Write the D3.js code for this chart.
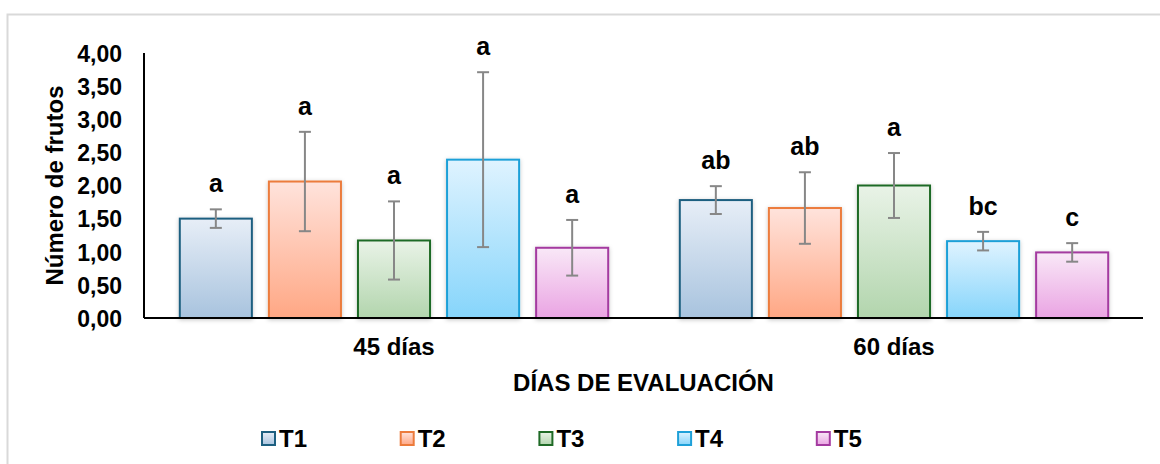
<!DOCTYPE html>
<html>
<head>
<meta charset="utf-8">
<script src="https://cdn.jsdelivr.net/npm/d3@7/dist/d3.min.js"></script>
<style>
  body { margin: 0; background: #fff; }
  svg text { font-family: "Liberation Sans", Arial, sans-serif; font-weight: bold; fill: #000; }
</style>
</head>
<body>
<div class="chart-wrapper"></div>
<script>
const days = ['45 días', '60 días']
const treatments = ['T1', 'T2', 'T3', 'T4', 'T5']

// mean number of fruits per treatment, one array per evaluation day
const means45 = [1.50, 2.06, 1.17, 2.39, 1.06]
const means60 = [1.78, 1.66, 2.00, 1.16, 0.99]

// error bar half-widths
const err45 = [0.14, 0.75, 0.59, 1.32, 0.42]
const err60 = [0.21, 0.54, 0.49, 0.14, 0.14]

// significance letters
const letters45 = ['a', 'a', 'a', 'a', 'a']
const letters60 = ['ab', 'ab', 'a', 'bc', 'c']

const yTicks = [0, 0.5, 1, 1.5, 2, 2.5, 3, 3.5, 4]

const colors = {
  T1: { stroke: '#1d5f80', top: '#e7eef7', bottom: '#a8c3de' },
  T2: { stroke: '#ec7b3c', top: '#ffe3dc', bottom: '#ffa784' },
  T3: { stroke: '#1f6a26', top: '#e9f3e7', bottom: '#b2d5ad' },
  T4: { stroke: '#1ea0d8', top: '#dff3ff', bottom: '#86d5fb' },
  T5: { stroke: '#a43aa0', top: '#f9e8f7', bottom: '#eaa4e3' }
}

const width = 1160, height = 464
const margin = { left: 144, right: 17, top: 53, bottom: 146 }

const rows = [
  { day: days[0], means: means45, errs: err45, letters: letters45 },
  { day: days[1], means: means60, errs: err60, letters: letters60 }
]

const svg = d3.select('.chart-wrapper')
  .append('svg')
  .attr('width', width)
  .attr('height', height)

const defs = svg.append('defs')

treatments.forEach(t => {
  const g = defs.append('linearGradient')
    .attr('id', 'grad-' + t)
    .attr('x1', 0).attr('y1', 0).attr('x2', 0).attr('y2', 1)
  g.append('stop').attr('offset', '0%').attr('stop-color', colors[t].top)
  g.append('stop').attr('offset', '100%').attr('stop-color', colors[t].bottom)
})

defs.append('filter')
  .attr('id', 'shadow')
  .attr('x', '-20%').attr('y', '-20%').attr('width', '140%').attr('height', '140%')
  .append('feDropShadow')
  .attr('dx', 0).attr('dy', 1)
  .attr('stdDeviation', 2)
  .attr('flood-color', '#000')
  .attr('flood-opacity', 0.22)

// chart frame
svg.append('rect')
  .attr('x', 7.5).attr('y', 14.5)
  .attr('width', width).attr('height', height)
  .attr('fill', 'none')
  .attr('stroke', '#d9d9d9')
  .attr('stroke-width', 2)

const x0 = d3.scaleBand()
  .domain(days)
  .range([margin.left, width - margin.right + 1])
  .paddingInner(0.1432)
  .paddingOuter(0.0716)

const x1 = d3.scaleBand()
  .domain(treatments)
  .range([0, x0.bandwidth()])
  .paddingInner(0.191)
  .paddingOuter(0)

const y = d3.scaleLinear()
  .domain([0, 4])
  .range([height - margin.bottom, margin.top])

const locale = d3.formatLocale({ decimal: ',', thousands: '.', grouping: [3], currency: ['', ''] })
const fmt = locale.format('.2f')

// y axis
const yAxis = svg.append('g')
  .attr('transform', `translate(${margin.left},0)`)
  .call(d3.axisLeft(y).tickValues(yTicks).tickFormat(fmt).tickSize(0).tickPadding(22))

yAxis.select('.domain').remove()
yAxis.selectAll('text')
  .style('font-size', '23px')
  .attr('dy', '0.36em')

svg.append('line')
  .attr('x1', margin.left).attr('x2', margin.left)
  .attr('y1', y(4)).attr('y2', y(0))
  .attr('stroke', '#000')
  .attr('stroke-width', 2)

// bars
const groups = svg.append('g')
  .selectAll('g')
  .data(rows)
  .join('g')
  .attr('transform', d => `translate(${x0(d.day)},0)`)

const items = groups.selectAll('g')
  .data(d => treatments.map((t, i) => ({ t, v: d.means[i], e: d.errs[i], l: d.letters[i] })))
  .join('g')

items.append('rect')
  .attr('x', d => x1(d.t))
  .attr('y', d => y(d.v))
  .attr('width', x1.bandwidth())
  .attr('height', d => y(0) - y(d.v))
  .attr('fill', d => `url(#grad-${d.t})`)
  .attr('stroke', d => colors[d.t].stroke)
  .attr('stroke-width', 2)
  .attr('filter', 'url(#shadow)')

// error bars
const cap = 6
items.append('line')
  .attr('x1', d => x1(d.t) + x1.bandwidth() / 2)
  .attr('x2', d => x1(d.t) + x1.bandwidth() / 2)
  .attr('y1', d => y(d.v + d.e))
  .attr('y2', d => y(d.v - d.e))
  .attr('stroke', '#878787').attr('stroke-width', 2)

items.append('line')
  .attr('x1', d => x1(d.t) + x1.bandwidth() / 2 - cap)
  .attr('x2', d => x1(d.t) + x1.bandwidth() / 2 + cap)
  .attr('y1', d => y(d.v + d.e))
  .attr('y2', d => y(d.v + d.e))
  .attr('stroke', '#878787').attr('stroke-width', 2)

items.append('line')
  .attr('x1', d => x1(d.t) + x1.bandwidth() / 2 - cap)
  .attr('x2', d => x1(d.t) + x1.bandwidth() / 2 + cap)
  .attr('y1', d => y(d.v - d.e))
  .attr('y2', d => y(d.v - d.e))
  .attr('stroke', '#878787').attr('stroke-width', 2)

items.append('text')
  .attr('x', d => x1(d.t) + x1.bandwidth() / 2)
  .attr('y', d => y(d.v + d.e) - 17)
  .attr('text-anchor', 'middle')
  .style('font-size', '25px')
  .text(d => d.l)

// x axis line
svg.append('line')
  .attr('x1', margin.left).attr('x2', width - margin.right)
  .attr('y1', y(0)).attr('y2', y(0))
  .attr('stroke', '#000')
  .attr('stroke-width', 2)

// category labels
svg.append('g')
  .selectAll('text')
  .data(days)
  .join('text')
  .attr('x', d => x0(d) + x0.bandwidth() / 2)
  .attr('y', 355)
  .attr('text-anchor', 'middle')
  .style('font-size', '24px')
  .text(d => d)

// axis titles
svg.append('text')
  .attr('x', (margin.left + width - margin.right) / 2)
  .attr('y', 391)
  .attr('text-anchor', 'middle')
  .style('font-size', '24px')
  .text('DÍAS DE EVALUACIÓN')

svg.append('text')
  .attr('transform', `translate(63,${(y(0) + y(4)) / 2}) rotate(-90)`)
  .attr('text-anchor', 'middle')
  .style('font-size', '24px')
  .text('Número de frutos')

// legend
const legend = svg.append('g')
  .selectAll('g')
  .data(treatments)
  .join('g')
  .attr('transform', (d, i) => `translate(${262 + i * 138.7},432)`)

legend.append('rect')
  .attr('width', 13).attr('height', 13)
  .attr('fill', d => `url(#grad-${d})`)
  .attr('stroke', d => colors[d].stroke)
  .attr('stroke-width', 2)

legend.append('text')
  .attr('x', 17)
  .attr('y', 15)
  .style('font-size', '24px')
  .text(d => d)
</script>
</body>
</html>
